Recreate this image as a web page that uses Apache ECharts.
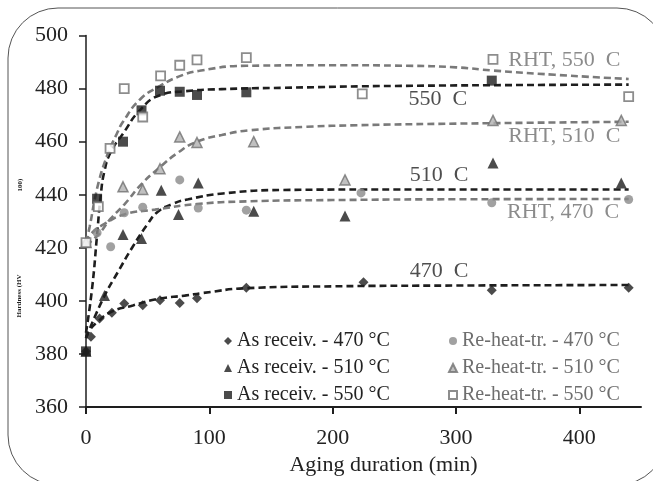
<!DOCTYPE html>
<html>
<head>
<meta charset="utf-8">
<script src="https://cdn.jsdelivr.net/npm/echarts@6/dist/echarts.min.js"></script>
<style>
  html, body { margin: 0; padding: 0; background: #fff; }
  #chart { width: 653px; height: 481px; }
</style>
</head>
<body>
<div id="chart"></div>
<script>
// measured points [aging min, hardness HV]
var ar470 = [[0, 381], [4, 386.5], [11, 393.4], [21, 395.5], [31, 399], [46, 398.4], [60, 400.3], [76, 399.2], [90, 401], [130, 405], [225, 407], [329, 404], [440, 405]]
var ar510 = [[0, 381], [15, 402], [30, 425], [45, 423.5], [61, 441.7], [75, 432.6], [91, 444.4], [136, 433.8], [210, 432], [330, 452], [434, 444.4]]
var ar550 = [[0, 381], [9, 438.5], [30, 460], [45, 471.8], [60, 479.2], [76, 478.8], [90, 477.6], [130, 478.6], [329, 483]]
var rht470 = [[0, 421.5], [9, 425.7], [20, 420.4], [31, 433.2], [46, 435.3], [76, 445.6], [91, 435], [130, 434.2], [223, 440.7], [329, 437], [440, 438.2]]
var rht510 = [[0, 422], [30, 443], [46, 442], [60, 449.8], [76, 461.8], [90, 459.7], [136, 460], [210, 445.6], [330, 468], [434, 468]]
var rht550 = [[0, 422], [10, 435.5], [19.5, 457.5], [31, 480], [46, 469.3], [60.5, 484.8], [76, 488.8], [90, 490.8], [130, 491.7], [224, 478], [330, 491], [440, 477]]

// fitted trend curves
var ar470Fit = [[0, 386], [3, 389], [9, 392], [21, 396], [38, 398.3], [59, 400.8], [80, 402], [95, 403], [130, 404.8], [200, 405.5], [300, 405.8], [440, 406]]
var ar510Fit = [[0, 386], [14, 401], [26, 411], [38, 420.5], [50, 429], [58, 433.5], [70, 436.5], [83, 438.3], [111, 440.5], [160, 441.8], [250, 442], [440, 442]]
var ar550Fit = [[0, 388], [5, 405], [9, 425], [12, 440], [15, 449], [20, 456], [30, 463], [44, 472], [60, 477.5], [80, 479], [110, 479.8], [160, 480.3], [250, 481], [440, 481.5]]
var rht470Fit = [[0, 422], [5, 425.7], [15, 429], [31, 432.6], [56, 434.4], [90, 436.5], [130, 437.5], [200, 438], [300, 438.3], [440, 438.4]]
var rht510Fit = [[0, 421], [10, 425], [20, 431], [31, 436.3], [45, 444], [59, 450], [75, 456], [90, 460], [110, 462.5], [133, 464.3], [179, 465.6], [220, 466.2], [300, 466.8], [440, 467.5]]
var rht550Fit = [[0, 422], [3, 428], [7, 438], [11, 446], [15, 452], [19.5, 457.5], [25, 463], [30, 467.5], [44, 476], [60, 481], [75, 484.5], [92, 486.7], [130, 488.6], [200, 488.8], [260, 488.6], [300, 488], [330, 486.8], [380, 485.2], [440, 483.6]]

var xTicks = [0, 100, 200, 300, 400]
var legendLeft = ['As receiv. - 470 °C', 'As receiv. - 510 °C', 'As receiv. - 550 °C']
var legendRight = ['Re-heat-tr. - 470 °C', 'Re-heat-tr. - 510 °C', 'Re-heat-tr. - 550 °C']

// curve labels: text, aging, hardness, group
var notes = [
  ['RHT, 550  C', 342, 490.8, 'rht'],
  ['550  C', 261, 476, 'ar'],
  ['RHT, 510  C', 342, 462, 'rht'],
  ['510  C', 262, 447.2, 'ar'],
  ['RHT, 470  C', 341, 433.3, 'rht'],
  ['470  C', 262, 411.2, 'ar']
]

var black = '#1e1e1e'
var gray = '#7a7a7a'
var serif = 'Liberation Serif'

var chart = echarts.init(document.getElementById('chart'))

function marks(name, data, symbol, size, style) {
  return {
    name: name,
    type: 'scatter',
    data: data,
    symbol: symbol,
    symbolSize: size,
    itemStyle: style,
    z: 5
  }
}

function fit(data, color) {
  return {
    type: 'line',
    data: data,
    smooth: true,
    showSymbol: false,
    silent: true,
    lineStyle: { color: color, width: 2.6, type: [7, 4] },
    z: 3
  }
}

function legendItems(names, color) {
  return names.map(function (n) {
    return { name: n, textStyle: { color: color } }
  })
}

chart.setOption({
  animation: false,
  backgroundColor: '#fff',
  graphic: [
    {
      type: 'rect',
      shape: { x: 8, y: 8, width: 659, height: 477, r: 50 },
      style: { fill: 'none', stroke: '#555', lineWidth: 1 },
      z: -1
    },
    {
      type: 'text',
      x: 19,
      y: 296,
      rotation: Math.PI / 2,
      style: { text: 'Hardness (HV', fontSize: 7, fontWeight: 'bold', fontFamily: serif, fill: '#222', align: 'center', verticalAlign: 'middle' }
    },
    {
      type: 'text',
      x: 20,
      y: 185,
      rotation: Math.PI / 2,
      style: { text: '100)', fontSize: 7, fontWeight: 'bold', fontFamily: serif, fill: '#222', align: 'center', verticalAlign: 'middle' }
    }
  ],
  grid: {
    left: 86,
    right: 12,
    top: 35.5,
    bottom: 71
  },
  legend: [
    {
      orient: 'vertical',
      left: 219,
      top: 326,
      itemGap: 7,
      itemWidth: 8,
      itemHeight: 8,
      textStyle: { fontSize: 20, fontFamily: serif },
      data: legendItems(legendLeft, '#222')
    },
    {
      orient: 'vertical',
      left: 443,
      top: 326,
      itemGap: 7,
      itemWidth: 8,
      itemHeight: 8,
      textStyle: { fontSize: 20, fontFamily: serif },
      data: legendItems(legendRight, '#6e6e6e')
    }
  ],
  xAxis: {
    type: 'value',
    min: 0,
    max: 450,
    name: 'Aging duration (min)',
    nameLocation: 'middle',
    nameGap: 39,
    nameTextStyle: { fontSize: 22, fontFamily: serif, color: '#222', padding: [0, 0, 0, 40] },
    splitLine: { show: false },
    axisLine: { onZero: false, lineStyle: { color: black, width: 2 } },
    axisTick: { length: 7, lineStyle: { color: black, width: 2 }, customValues: xTicks },
    axisLabel: { fontSize: 22, fontFamily: serif, color: '#222', margin: 20, customValues: xTicks }
  },
  yAxis: {
    type: 'value',
    min: 360,
    max: 500,
    interval: 20,
    splitLine: { show: false },
    axisLine: { show: true, onZero: false, lineStyle: { color: black, width: 1.5 } },
    axisTick: { show: true, length: 7, lineStyle: { color: black, width: 1.5 } },
    axisLabel: { fontSize: 22, fontFamily: serif, color: '#222', margin: 18 }
  },
  series: [
    fit(ar470Fit, black),
    fit(ar510Fit, black),
    fit(ar550Fit, black),
    fit(rht470Fit, gray),
    fit(rht510Fit, gray),
    fit(rht550Fit, gray),
    marks(legendLeft[0], ar470, 'diamond', 10, { color: black }),
    marks(legendLeft[1], ar510, 'triangle', 11, { color: black }),
    marks(legendLeft[2], ar550, 'rect', 10, { color: black }),
    marks(legendRight[0], rht470, 'circle', 9, { color: '#8a8a8a' }),
    marks(legendRight[1], rht510, 'triangle', 10, { color: '#b0b0b0', borderColor: '#707070', borderWidth: 1.5 }),
    marks(legendRight[2], rht550, 'rect', 9, { color: '#fff', borderColor: '#707070', borderWidth: 1.8 }),
    {
      type: 'scatter',
      silent: true,
      symbolSize: 1,
      itemStyle: { color: 'rgba(0,0,0,0)' },
      z: 6,
      label: {
        show: true,
        position: 'right',
        distance: 0,
        fontSize: 22,
        fontFamily: serif,
        formatter: function (p) { return p.name }
      },
      data: notes.map(function (n) {
        return {
          name: n[0],
          value: [n[1], n[2]],
          label: { color: n[3] === 'rht' ? '#6e6e6e' : '#222' }
        }
      })
    }
  ]
})
</script>
</body>
</html>
